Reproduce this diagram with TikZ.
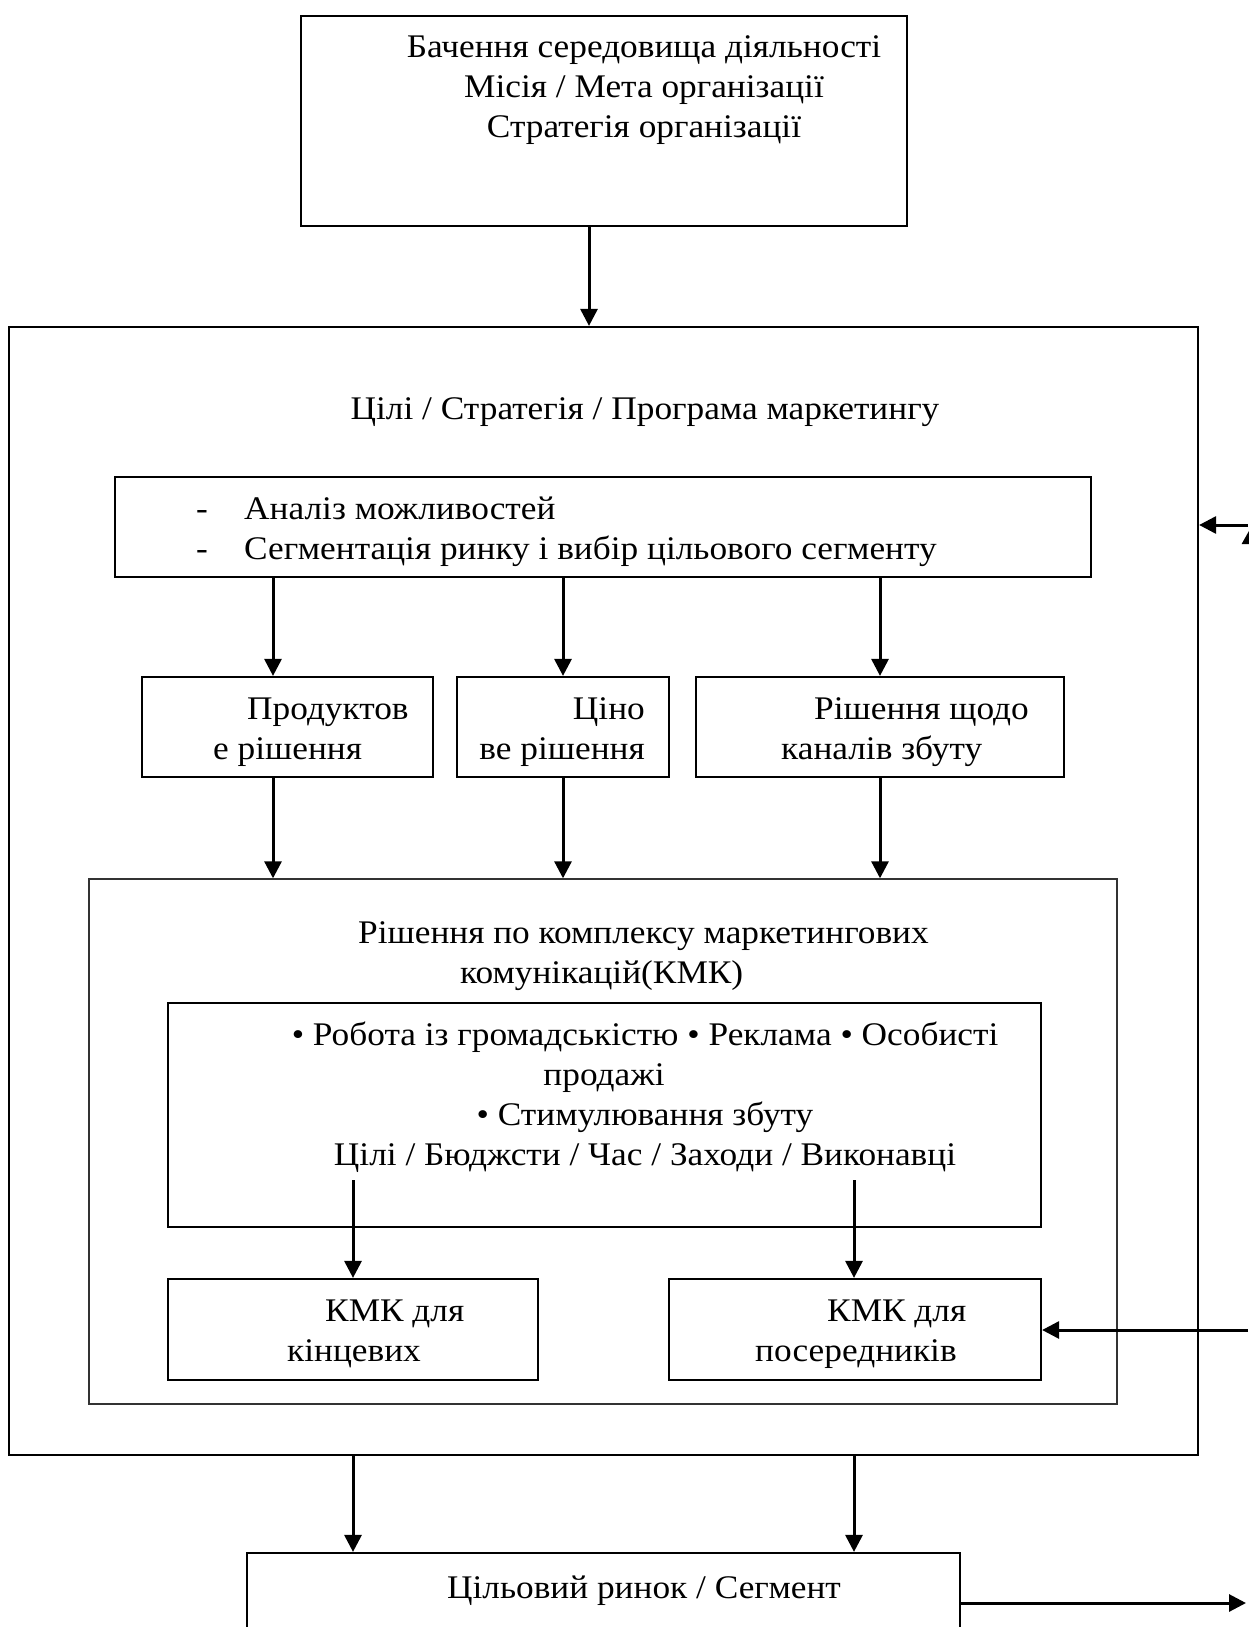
\documentclass[tikz,border=0pt]{standalone}
\usepackage{fontspec}
\setmainfont{Liberation Serif}[FakeStretch=1.07]
\usetikzlibrary{arrows.meta}
\begin{document}
\begin{tikzpicture}[x=1pt,y=-1pt,
  box/.style={draw, line width=2.2pt, inner sep=0pt},
  thinbox/.style={draw, line width=1.4pt, black!80, inner sep=0pt},
  txt/.style={font=\fontsize{33}{40}\selectfont, inner sep=0pt, align=center},
  arr/.style={line width=3pt, -{Triangle[length=17pt,width=17pt]}},
  widearr/.style={line width=3pt, -{Triangle[length=22pt,width=24pt]}}]
\useasboundingbox (0,0) rectangle (1248,1627);
% boxes
\node[box, minimum width=606pt, minimum height=210pt] (top) at (604,121) {};
\node[box, minimum width=1189pt, minimum height=1128pt] (outer) at (603.5,891) {};
\node[box, minimum width=976pt, minimum height=100pt] (anal) at (603,527) {};
\node[box, minimum width=291pt, minimum height=100pt] (prod) at (287.5,727) {};
\node[box, minimum width=212pt, minimum height=100pt] (price) at (563,727) {};
\node[box, minimum width=368pt, minimum height=100pt] (chan) at (880,727) {};
\node[thinbox, minimum width=1028pt, minimum height=525pt] (kmk) at (603,1141.5) {};
\node[box, minimum width=873pt, minimum height=224pt] (inner) at (604.5,1115) {};
\node[box, minimum width=370pt, minimum height=101pt] (endc) at (353,1329.5) {};
\node[box, minimum width=372pt, minimum height=101pt] (mid) at (855,1329.5) {};
\node[box, minimum width=713pt, minimum height=107pt] (target) at (603.5,1606.5) {};
% texts
\node[txt] (ttop) at (644,90) {Бачення середовища діяльності\\Місія / Мета організації\\Стратегія організації};
\node[txt] (ttitle) at (645,412) {Цілі / Стратегія / Програма маркетингу};
\node[txt, align=left, anchor=west] (tanal) at (196,532) {\makebox[48pt][l]{-}Аналіз можливостей\\\makebox[48pt][l]{-}Сегментація ринку і вибір цільового сегменту};
\node[txt, align=left, anchor=west] (tprod) at (213,732) {\hspace*{34pt}Продуктов\\е рішення};
\node[txt, align=right, anchor=east] (tprice) at (645,732) {Ціно\\ве рішення};
\node[txt, align=left, anchor=west] (tchan) at (781,732) {\hspace*{33pt}Рішення щодо\\каналів збуту};
\node[txt, align=left, anchor=west] (tkmk) at (358,956) {Рішення по комплексу маркетингових\\\hspace*{102pt}комунікацій(КМК)};
\node[txt] (tinner) at (645,1097.5) {• Робота із громадськістю • Реклама • Особисті\\продажі\hspace*{82pt}\mbox{}\\• Стимулювання збуту\\Цілі / Бюджсти / Час / Заходи / Виконавці};
\node[txt, align=left, anchor=west] (tendc) at (287,1334) {\hspace*{38pt}КМК для\\кінцевих};
\node[txt, align=left, anchor=west] (tmid) at (755,1334) {\hspace*{72pt}КМК для\\посередників};
\node[txt] (ttarget) at (644,1591) {Цільовий ринок / Сегмент};
% helper coordinates
\coordinate (xa) at (589,0);
\coordinate (x1) at (273,0);
\coordinate (x2) at (563,0);
\coordinate (x3) at (880,0);
\coordinate (ia1) at (353,1180);
\coordinate (ia2) at (854,1180);
\coordinate (xb1) at (353,0);
\coordinate (xb2) at (854,0);
\coordinate (rin1) at (1248,525);
\coordinate (rin2) at (1248,1330);
\coordinate (rout) at (1246,1603);
\coordinate (pt1) at (1254,640);
\coordinate (pt2) at (1254,522);
% connectors
\draw[arr] (top.south -| xa) -- (outer.north -| xa);
\draw[arr] (anal.south -| x1) -- (prod.north -| x1);
\draw[arr] (anal.south -| x2) -- (price.north -| x2);
\draw[arr] (anal.south -| x3) -- (chan.north -| x3);
\draw[arr] (prod.south -| x1) -- (kmk.north -| x1);
\draw[arr] (price.south -| x2) -- (kmk.north -| x2);
\draw[arr] (chan.south -| x3) -- (kmk.north -| x3);
\draw[arr] (ia1) -- (endc.north -| ia1);
\draw[arr] (ia2) -- (mid.north -| ia2);
\draw[arr] (outer.south -| xb1) -- (target.north -| xb1);
\draw[arr] (outer.south -| xb2) -- (target.north -| xb2);
\draw[arr] (rin1) -- (outer.east |- rin1);
\draw[arr] (rin2) -- (mid.east |- rin2);
\draw[arr] (target.east |- rout) -- (rout);
\draw[widearr] (pt1) -- (pt2);
\end{tikzpicture}
\end{document}
